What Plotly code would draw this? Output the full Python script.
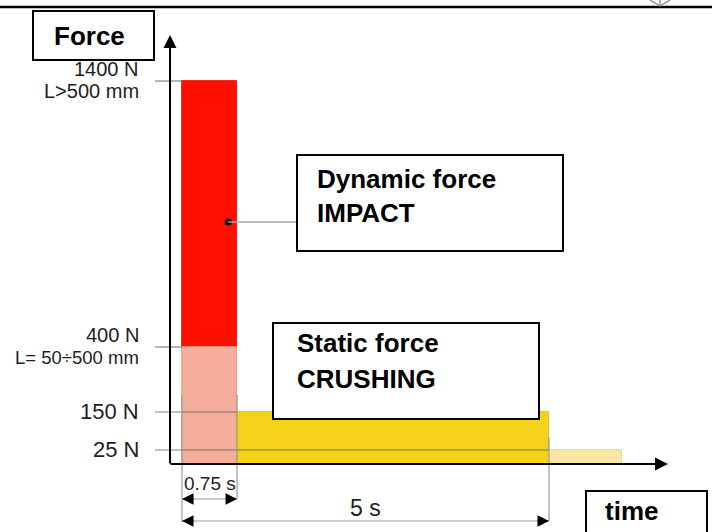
import numpy as np
import plotly.graph_objects as go

W, H = 712, 532

# ---------------- data ----------------
force_levels = [1400, 400, 150, 25]                      # N
force_tick_main = ["1400 N", "400 N", "150 N", "25 N"]
force_tick_sub = ["L>500 mm", "L= 50÷500 mm", "", ""]

segment_names = ["Impact L>500 mm", "Impact L=50÷500 mm", "Crushing", "Residual"]
segment_t_start = [0.0, 0.0, 0.75, 5.0]                  # s
segment_t_end = [0.75, 0.75, 5.0, 6.0]                   # s
segment_f_low = [400, 0, 0, 0]                           # N
segment_f_high = [1400, 400, 150, 25]                    # N
segment_colors = ["#FF0F00", "#F5AE9B", "#F3D219", "#F8E8A4"]
segment_edges = ["#E00A00", "#D89A88", "#D8B810", "#E2D290"]

time_marks = [0.75, 5.0]                                 # s
time_mark_labels = ["0.75 s", "5 s"]

impact_pointer_t = 0.63                                  # s
impact_pointer_f = 870                                   # N

# schematic (non-proportional) force scale used by the drawing
SCALE_F = [0, 25, 150, 400, 1400]
SCALE_U = [0, 14, 52, 117, 383]

# ---------------- geometry helpers ----------------
PX_PER_S = 73.4
T0_PX = 182
U0_PX = 464


def tx(px):
    return (px - T0_PX) / PX_PER_S


def uy(py):
    return U0_PX - py


def fy(f):
    return float(np.interp(f, SCALE_F, SCALE_U))


def pxp(px):
    return px / W


def pyp(py):
    return 1 - py / H


FONT = "Liberation Sans, Arial, Helvetica, sans-serif"
GRAY = "rgba(90,90,90,0.75)"
EXT = "#9a9a9a"
TXT = "#1e1e1e"

fig = go.Figure()

# ---- bars (force segments) ----
for name, t0, t1, f0, f1, c, ec in zip(segment_names, segment_t_start, segment_t_end,
                                        segment_f_low, segment_f_high, segment_colors, segment_edges):
    fig.add_trace(go.Bar(
        x=[(t0 + t1) / 2], y=[fy(f1) - fy(f0)], base=[fy(f0)], width=[t1 - t0],
        marker=dict(color=c, line=dict(color=ec, width=0.8)),
        name=name, showlegend=False, hoverinfo="skip"))

# ---- impact pointer dot ----
fig.add_trace(go.Scatter(x=[impact_pointer_t], y=[fy(impact_pointer_f)], mode="markers",
                         marker=dict(color="black", size=7), showlegend=False, hoverinfo="skip"))

shapes = []
annotations = []

# ---- force level tick lines ----
for lvl in force_levels:
    i = segment_f_high.index(lvl)
    shapes.append(dict(type="line", xref="x", yref="y", x0=tx(155), x1=segment_t_start[i],
                       y0=fy(lvl), y1=fy(lvl), line=dict(color=GRAY, width=1.2), layer="above"))

# ---- tick labels ----
for lvl, main, sub in zip(force_levels, force_tick_main, force_tick_sub):
    if sub:
        annotations.append(dict(x=tx(141), y=fy(lvl), xref="x", yref="y", text=main, showarrow=False,
                                xanchor="right", yanchor="middle", yshift=12,
                                font=dict(family=FONT, size=20, color=TXT)))
        annotations.append(dict(x=tx(141), y=fy(lvl), xref="x", yref="y", text=sub, showarrow=False,
                                xanchor="right", yanchor="middle", yshift=-10,
                                font=dict(family=FONT, size=20 if len(sub) < 10 else 18.5, color=TXT)))
    else:
        annotations.append(dict(x=tx(141), y=fy(lvl), xref="x", yref="y", text=main, showarrow=False,
                                xanchor="right", yanchor="middle", yshift=1,
                                font=dict(family=FONT, size=22, color=TXT)))

# ---- dimension extension lines ----
shapes.append(dict(type="line", xref="x", yref="y", x0=0, x1=0, y0=uy(395), y1=uy(522),
                   line=dict(color=EXT, width=1.2), layer="above"))
shapes.append(dict(type="line", xref="x", yref="y", x0=time_marks[0], x1=time_marks[0], y0=uy(395), y1=uy(499),
                   line=dict(color=EXT, width=1.2), layer="above"))
shapes.append(dict(type="line", xref="x", yref="y", x0=time_marks[1], x1=time_marks[1], y0=uy(437), y1=uy(521),
                   line=dict(color=EXT, width=1.2), layer="above"))

# ---- dimension arrows ----
dim_rows = [uy(499), uy(521)]
label_rows = [uy(483), uy(508)]
label_sizes = [19, 23]
label_x = [time_marks[0] / 2, time_marks[1] / 2]
for tm, lab, yr, ly, ls, lx in zip(time_marks, time_mark_labels, dim_rows, label_rows, label_sizes, label_x):
    shapes.append(dict(type="line", xref="x", yref="y", x0=0, x1=tm, y0=yr, y1=yr,
                       line=dict(color=EXT, width=1.2), layer="above"))
    annotations.append(dict(x=0, y=yr, xref="x", yref="y", text="", showarrow=True, ax=13, ay=0,
                            arrowhead=2, arrowsize=2.3, arrowwidth=1, arrowcolor="black"))
    annotations.append(dict(x=tm, y=yr, xref="x", yref="y", text="", showarrow=True, ax=-13, ay=0,
                            arrowhead=2, arrowsize=2.3, arrowwidth=1, arrowcolor="black"))
    annotations.append(dict(x=lx, y=ly, xref="x", yref="y", text=lab, showarrow=False,
                            xanchor="center", yanchor="middle",
                            font=dict(family=FONT, size=ls, color=TXT)))

# ---- axes with arrows ----
annotations.append(dict(x=tx(170), y=uy(35), xref="x", yref="y", ax=tx(170), ay=uy(465), axref="x", ayref="y",
                        text="", showarrow=True, arrowhead=2, arrowsize=1.3, arrowwidth=2, arrowcolor="black"))
annotations.append(dict(x=tx(668), y=uy(464), xref="x", yref="y", ax=tx(169), ay=uy(464), axref="x", ayref="y",
                        text="", showarrow=True, arrowhead=2, arrowsize=1.3, arrowwidth=2, arrowcolor="black"))

# ---- leader line ----
shapes.append(dict(type="line", xref="x", yref="y", x0=impact_pointer_t, x1=tx(297),
                   y0=fy(impact_pointer_f), y1=fy(impact_pointer_f),
                   line=dict(color="#a8a8a8", width=1.5), layer="above"))

# ---- text boxes ----
boxes = [(33, 11, 154, 60), (297, 155, 563, 251), (273, 323, 539, 419), (586, 491, 707, 545)]
for x0, y0, x1, y1 in boxes:
    shapes.append(dict(type="rect", xref="paper", yref="paper", x0=pxp(x0), x1=pxp(x1), y0=pyp(y0), y1=pyp(y1),
                       line=dict(color="black", width=2), fillcolor="white", layer="above"))

box_texts = [("Force", 52, 36), ("Dynamic force", 315, 179), ("IMPACT", 315, 213),
             ("Static force", 295, 343), ("CRUSHING", 295, 379), ("time", 603, 511)]
for txt, px, py in box_texts:
    annotations.append(dict(x=pxp(px), y=pyp(py), xref="paper", yref="paper", text="<b>%s</b>" % txt,
                            showarrow=False, xanchor="left", yanchor="middle",
                            font=dict(family=FONT, size=26, color="black")))

# ---- top rule and corner mark ----
shapes.append(dict(type="line", xref="paper", yref="paper", x0=0, x1=1, y0=pyp(7), y1=pyp(7),
                   line=dict(color="black", width=2.5), layer="above"))
shapes.append(dict(type="path", xref="paper", yref="paper",
                   path="M %f %f L %f %f L %f %f M %f %f L %f %f" % (
                       pxp(650), pyp(0), pxp(660), pyp(6), pxp(670), pyp(0), pxp(660), pyp(0), pxp(660), pyp(6)),
                   line=dict(color="#999999", width=1.5), layer="above"))

fig.update_layout(
    width=W, height=H, margin=dict(l=0, r=0, t=0, b=0),
    paper_bgcolor="white", plot_bgcolor="white",
    barmode="overlay", bargap=0,
    xaxis=dict(range=[tx(0), tx(W)], visible=False, fixedrange=True),
    yaxis=dict(range=[uy(H), uy(0)], visible=False, fixedrange=True),
    shapes=shapes, annotations=annotations,
)

fig.write_html("out.html", config={"displayModeBar": False},
               post_script="document.body.style.margin='0';document.body.style.overflow='hidden';")
